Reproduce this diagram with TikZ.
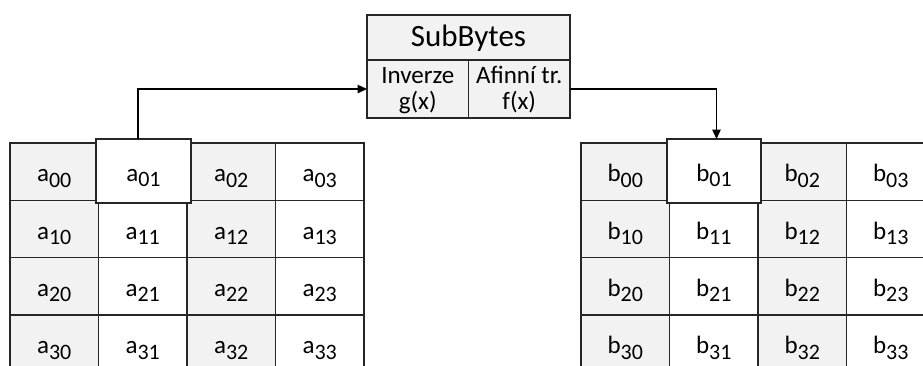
\documentclass[tikz,border=0pt]{standalone}
\usepackage{fontspec}
\setmainfont{Carlito}
\usetikzlibrary{arrows.meta,backgrounds}
\definecolor{cellgray}{HTML}{F2F2F2}
\definecolor{edge}{HTML}{262626}
\definecolor{shadowblue}{RGB}{165,180,210}
% subscript index of a state byte
\newcommand\ix[1]{\raisebox{-5.5pt}{\fontsize{22}{22}\selectfont #1}}
% fixed line heights for the two-line labels
\newcommand\toprow{\rule{0pt}{21pt}}
\newcommand\botrow{\rule[-6pt]{0pt}{6pt}}

\begin{document}
\begin{tikzpicture}[x=1pt,y=-1pt,
  cellbox/.style={draw=edge, line width=1.1pt, inner sep=0pt, outer sep=0pt,
    minimum width=88.5pt, minimum height=57.33pt,
    font=\fontsize{25}{30}\selectfont, text height=25pt, text depth=5pt},
  bigcell/.style={cellbox, fill=white, minimum width=95pt, minimum height=64pt},
  sbpart/.style={draw=edge, line width=1.1pt, fill=cellgray, inner sep=0pt, outer sep=0pt},
  titlebox/.style={sbpart, minimum width=203pt, minimum height=45pt,
    font=\fontsize{31}{34}\selectfont, text height=25pt, text depth=8pt},
  halfbox/.style={sbpart, minimum width=101.5pt, minimum height=58pt, align=center,
    font=\fontsize{25}{26}\selectfont},
  arrowline/.style={draw=black, line width=1.3pt, -{Triangle[length=9.5pt,width=8.5pt]}}
]
\useasboundingbox (0,0) rectangle (923,365);
\fill[white] (0,0) rectangle (923,365);

\begin{scope}
  \clip (0,0) rectangle (923,365);
  % input state
  \foreach \r in {0,...,3}
    \foreach \c/\fc in {0/cellgray,1/white,2/cellgray,3/white} {
      \ifnum\r\c=1\else
        \node[cellbox, fill=\fc] (a\r\c) at (54.25+88.5*\c, 171.67+57.33*\r) {a\ix{\r\c}};
      \fi
    }
  \node[bigcell] (a01) at (143.5,171) {a\ix{01}};
  % output state
  \foreach \r in {0,...,3}
    \foreach \c/\fc in {0/cellgray,1/white,2/cellgray,3/white} {
      \ifnum\r\c=1\else
        \node[cellbox, fill=\fc] (b\r\c) at (625.25+88.5*\c, 171.67+57.33*\r) {b\ix{\r\c}};
      \fi
    }
  \node[bigcell, minimum width=94pt] (b01) at (714,171) {b\ix{01}};
\end{scope}

% SubBytes block
\node[titlebox] (sb) at (468.5,37.5) {SubBytes};
\node[halfbox, anchor=north west] (inv) at (sb.south west) {\toprow Inverze\\g(x)\botrow};
\node[halfbox, anchor=north west] (aff) at (inv.north east) {\toprow Afinní tr.\\f(x)\botrow};

% soft shadow behind the block
\begin{scope}[on background layer]
  \foreach \s/\o in {3.5/0.10,2.5/0.14,1.5/0.18,0.5/0.22}
    \fill[shadowblue, opacity=\o]
      ([shift={(1.5-\s,1.5-\s)}]sb.north west) rectangle ([shift={(1.5+\s,1.5+\s)}]aff.south east);
\end{scope}

% connectors
\draw[arrowline] ([xshift=-5.5pt]a01.north) |- (inv.west);
\draw[arrowline] (aff.east) -| ([xshift=2.5pt]b01.north);
\end{tikzpicture}
\end{document}
